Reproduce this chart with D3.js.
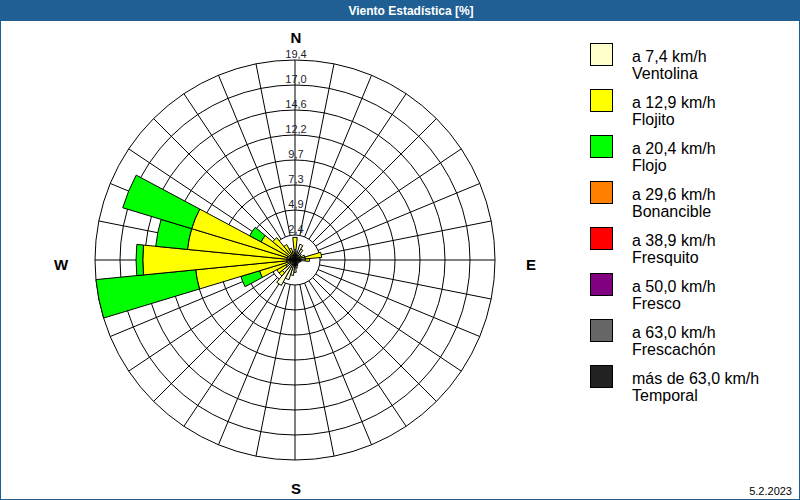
<!DOCTYPE html>
<html><head><meta charset="utf-8">
<script src="https://cdn.jsdelivr.net/npm/d3@7"></script>
<style>body{margin:0;background:#fff}svg{display:block}</style>
</head><body>
<svg id="c" width="800" height="500"></svg>
<script>
const directions = ["N","NbE","NNE","NEbN","NE","NEbE","ENE","EbN","E","EbS","ESE","SEbE","SE","SEbS","SSE","SbE",
  "S","SbW","SSW","SWbS","SW","SWbW","WSW","WbS","W","WbN","WNW","NWbW","NW","NWbN","NNW","NbW"];
const categories = ["Ventolina","Flojito","Flojo","Bonancible","Fresquito","Fresco","Frescachón","Temporal"];
const speedLabels = ["a 7,4 km/h","a 12,9 km/h","a 20,4 km/h","a 29,6 km/h","a 38,9 km/h","a 50,0 km/h","a 63,0 km/h","más de 63,0 km/h"];
const colors = ["#FFFFCC","#FFFF00","#00FF00","#FF8000","#FF0000","#800080","#666666","#222222"];
const ventolina = [1.0,0.8,1.6,1.2,0.8,0.6,0.7,1.0,1.0,0.6,0.5,0.4,0.4,0.5,0.6,0.8,1.2,1.5,2.0,2.8,1.6,1.0,0.5,0.8,0.8,0.8,0.8,0.5,0.6,0.5,0.5,0.5];
const flojito   = [1.2,0,0,0,0,0,0.3,1.6,0.4,0,0,0,0,0,0,0,0,0,0,0,0.4,1.0,3.1,8.9,14.0,9.7,9.7,3.25,2.2,1.2,0.7,0.3];
const flojo     = [0,0,0,0,0,0,0,0,0,0,0,0,0,0,0,0,0,0,0,0,0,0,1.9,9.74,0.65,3.1,7.0,1.25,0,0,0,0];
const bonancible = new Array(32).fill(0);
const fresquito  = new Array(32).fill(0);
const fresco     = new Array(32).fill(0);
const frescachon = new Array(32).fill(0);
const temporal   = new Array(32).fill(0);
const series = [ventolina, flojito, flojo, bonancible, fresquito, fresco, frescachon, temporal];
const ringValues = [2.43,4.86,7.29,9.72,12.15,14.58,17.01,19.44];
const ringLabels = ["2,4","4,9","7,3","9,7","12,2","14,6","17,0","19,4"];
const title = "Viento Estadística [%]";
const dateText = "5.2.2023";

const svg = d3.select("#c");
const FONT = "'Liberation Sans', Arial, sans-serif";
const cx = 295, cy = 260, R = 200;
const r = d3.scaleLinear().domain([0, 19.44]).range([0, R]);
const ang = d3.scaleLinear().domain([0, directions.length]).range([0, 2*Math.PI]);
const half = Math.PI / directions.length;

// title bar
svg.append("rect").attr("x",0).attr("y",0).attr("width",800).attr("height",20).attr("fill","#1F5F93");
svg.append("text").attr("x",411).attr("y",15).attr("text-anchor","middle").attr("fill","#fff")
  .attr("font-family",FONT).attr("font-weight","bold").attr("font-size",12).text(title);
svg.append("rect").attr("x",0.5).attr("y",20.5).attr("width",799).attr("height",479)
  .attr("fill","none").attr("stroke","#1F5F93").attr("stroke-width",1);

const g = svg.append("g").attr("transform",`translate(${cx},${cy})`);

// grid spokes
directions.forEach((d,i)=>{
  const a = ang(i);
  g.append("line")
    .attr("x1", Math.sin(a)*r(ringValues[0])).attr("y1", -Math.cos(a)*r(ringValues[0]))
    .attr("x2", Math.sin(a)*R).attr("y2", -Math.cos(a)*R)
    .attr("stroke","#000").attr("stroke-width",1);
});
ringValues.forEach(v=>{
  g.append("circle").attr("r", r(v)).attr("fill","none").attr("stroke","#000").attr("stroke-width",1);
});

// bars
const arc = d3.arc();
directions.forEach((d,i)=>{
  let cum = 0;
  series.forEach((s,k)=>{
    const v = s[i];
    if (v <= 0) return;
    const inner = r(cum), outer = r(cum+v);
    cum += v;
    g.append("path")
      .attr("d", arc({innerRadius: inner, outerRadius: outer, startAngle: ang(i)-half, endAngle: ang(i)+half}))
      .attr("fill", colors[k]).attr("stroke","#000").attr("stroke-width",1).attr("stroke-linejoin","miter");
  });
});

// ring labels
ringValues.forEach((v,k)=>{
  g.append("text").attr("x",1).attr("y",-r(v)-2).attr("text-anchor","middle")
    .attr("font-family",FONT).attr("font-size",11).attr("fill","#1c1c2c").text(ringLabels[k]);
});

// compass letters
const compass = [{t:"N",x:cx+1,y:43},{t:"E",x:531,y:270},{t:"S",x:cx+1,y:494},{t:"W",x:61,y:270}];
compass.forEach(c=>{
  svg.append("text").attr("x",c.x).attr("y",c.y).attr("text-anchor","middle")
    .attr("font-family",FONT).attr("font-weight","bold").attr("font-size",15).attr("fill","#000").text(c.t);
});

// legend
categories.forEach((c,k)=>{
  const y0 = 43 + k*46;
  svg.append("rect").attr("x",590.5).attr("y",y0+0.5).attr("width",22).attr("height",22)
    .attr("fill",colors[k]).attr("stroke","#000").attr("stroke-width",1);
  svg.append("text").attr("x",632).attr("y",y0+19).attr("font-family",FONT).attr("font-size",16)
    .attr("fill","#000").text(speedLabels[k]);
  svg.append("text").attr("x",632).attr("y",y0+36).attr("font-family",FONT).attr("font-size",16)
    .attr("fill","#000").text(c);
});

svg.append("text").attr("x",792).attr("y",495).attr("text-anchor","end")
  .attr("font-family",FONT).attr("font-size",11).attr("fill","#000").text(dateText);
</script>
</body></html>
